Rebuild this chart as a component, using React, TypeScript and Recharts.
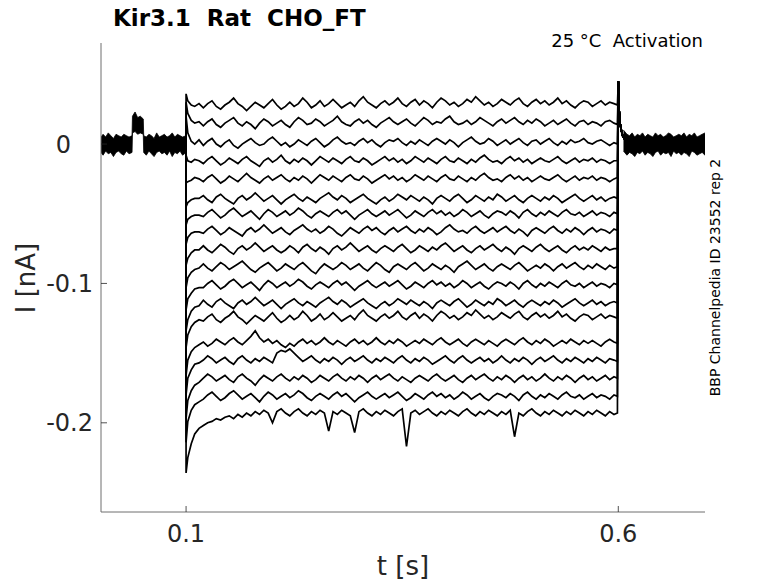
import { ComposedChart, Line, Area, XAxis, YAxis } from 'recharts';

// sample times (s) inside the voltage step
const stepTimes = [
  0.1, 0.102, 0.106, 0.11, 0.115,
  0.12, 0.125, 0.13, 0.135, 0.14, 0.145, 0.15, 0.155, 0.16, 0.165,
  0.17, 0.175, 0.18, 0.185, 0.19, 0.195, 0.2, 0.205, 0.21, 0.215,
  0.22, 0.225, 0.23, 0.235, 0.24, 0.245, 0.25, 0.255, 0.26, 0.265,
  0.27, 0.275, 0.28, 0.285, 0.29, 0.295, 0.3, 0.305, 0.31, 0.315,
  0.32, 0.325, 0.33, 0.335, 0.34, 0.345, 0.35, 0.355, 0.36, 0.365,
  0.37, 0.375, 0.38, 0.385, 0.39, 0.395, 0.4, 0.405, 0.41, 0.415,
  0.42, 0.425, 0.43, 0.435, 0.44, 0.445, 0.45, 0.455, 0.46, 0.465,
  0.47, 0.475, 0.48, 0.485, 0.49, 0.495, 0.5, 0.505, 0.51, 0.515,
  0.52, 0.525, 0.53, 0.535, 0.54, 0.545, 0.55, 0.555, 0.56, 0.565,
  0.57, 0.575, 0.58, 0.585, 0.59, 0.595, 0.599,
];

// currents in pA, one array per sweep (top to bottom)
const trace01 = [36, 31, 28, 27, 29, 26, 29, 31, 27, 25, 28, 30, 33, 29, 27, 24, 27, 30, 28, 26, 29, 32, 28, 25, 27, 30, 27, 29, 33, 30, 26, 28, 31, 27, 29, 32, 29, 26, 28, 30, 27, 31, 34, 30, 28, 26, 29, 31, 28, 30, 33, 29, 27, 30, 32, 28, 31, 29, 26, 30, 33, 31, 28, 30, 27, 29, 32, 30, 34, 31, 28, 30, 27, 29, 32, 30, 28, 31, 33, 29, 27, 30, 32, 29, 31, 28, 30, 33, 29, 31, 28, 26, 29, 31, 30, 27, 29, 31, 28, 30, 29, 28];
const trace02 = [30, 22, 17, 15, 16, 13, 16, 18, 14, 12, 15, 17, 19, 15, 13, 16, 14, 11, 15, 18, 16, 13, 15, 17, 14, 12, 16, 19, 17, 14, 15, 18, 16, 13, 15, 17, 20, 16, 14, 13, 16, 18, 15, 17, 14, 12, 15, 17, 19, 16, 14, 16, 18, 15, 13, 16, 19, 17, 14, 16, 15, 18, 20, 16, 14, 15, 17, 14, 16, 19, 17, 15, 13, 16, 18, 15, 17, 19, 16, 14, 17, 15, 18, 16, 13, 15, 17, 14, 16, 18, 15, 13, 16, 17, 14, 16, 15, 13, 16, 17, 15, 14];
const trace03 = [20, 8, 2, 0, 3, -1, 2, 4, 0, -2, 1, 3, -1, -3, 0, 2, 4, 1, -1, 0, 3, 5, 2, -1, 1, -2, 0, 3, 1, -1, 2, 4, 1, -2, 0, 3, 5, 2, 0, 1, -1, 2, 4, 1, 3, 0, -2, 1, 3, 2, 4, 1, -1, 2, 0, 3, 1, -1, 2, 4, 2, 0, 3, 1, -2, 1, 3, 5, 2, 0, 1, 4, 2, -1, 1, 3, 0, 2, 4, 1, -1, 2, 3, 0, 2, 4, 1, -1, 2, 0, 3, 1, 2, 4, 1, 0, 2, 3, 1, -1, 1, 0];
const trace04 = [-8, -12, -13, -11, -12, -14, -11, -9, -12, -15, -13, -10, -12, -14, -11, -9, -12, -14, -16, -12, -10, -13, -11, -8, -12, -14, -11, -13, -10, -12, -15, -12, -9, -11, -13, -10, -12, -14, -11, -9, -12, -13, -10, -12, -15, -13, -11, -9, -12, -10, -13, -11, -14, -12, -9, -11, -13, -10, -12, -14, -11, -9, -12, -13, -10, -12, -14, -11, -13, -10, -8, -11, -13, -12, -14, -11, -9, -12, -10, -13, -11, -14, -12, -10, -12, -13, -11, -9, -12, -14, -12, -10, -13, -11, -12, -10, -13, -11, -12, -14, -12, -12];
const trace05 = [-28, -27, -26, -24, -25, -27, -24, -22, -25, -28, -26, -23, -25, -27, -24, -21, -24, -26, -28, -25, -23, -26, -24, -22, -25, -27, -24, -26, -23, -25, -28, -25, -22, -24, -26, -23, -25, -27, -24, -22, -25, -26, -23, -25, -28, -26, -24, -22, -25, -23, -26, -24, -27, -25, -22, -24, -26, -23, -25, -27, -24, -22, -25, -26, -23, -25, -27, -24, -26, -23, -21, -24, -26, -25, -27, -24, -22, -25, -23, -26, -24, -27, -25, -23, -25, -26, -24, -22, -25, -27, -25, -23, -26, -24, -25, -23, -26, -24, -25, -27, -25, -24];
const trace06 = [-45, -42, -40, -39, -39, -37, -40, -42, -38, -36, -39, -41, -43, -39, -37, -40, -38, -35, -38, -41, -39, -37, -40, -43, -40, -38, -36, -39, -41, -38, -40, -42, -39, -37, -35, -38, -40, -37, -39, -42, -40, -38, -36, -39, -41, -43, -40, -38, -41, -39, -36, -38, -40, -37, -39, -41, -38, -40, -43, -39, -37, -39, -41, -38, -36, -39, -42, -40, -37, -39, -41, -38, -40, -36, -38, -41, -39, -37, -40, -42, -39, -37, -39, -41, -38, -40, -37, -39, -42, -40, -38, -36, -39, -41, -39, -37, -40, -38, -41, -39, -38, -39];
const trace07 = [-58, -54, -52, -51, -51, -52, -49, -47, -50, -53, -51, -48, -46, -49, -52, -50, -48, -51, -54, -50, -47, -49, -52, -50, -48, -51, -49, -46, -48, -51, -53, -50, -48, -50, -52, -49, -47, -50, -48, -51, -54, -51, -49, -47, -50, -52, -50, -48, -51, -49, -47, -50, -53, -51, -48, -50, -52, -49, -47, -50, -48, -51, -49, -52, -50, -47, -49, -52, -50, -48, -51, -53, -50, -48, -49, -51, -48, -50, -53, -49, -47, -50, -52, -49, -51, -48, -50, -52, -49, -47, -50, -51, -49, -52, -50, -48, -51, -49, -50, -52, -49, -50];
const trace08 = [-72, -67, -64, -63, -63, -64, -61, -59, -62, -65, -63, -60, -62, -64, -66, -62, -60, -63, -61, -58, -61, -64, -62, -60, -63, -65, -62, -60, -58, -61, -63, -61, -64, -62, -59, -61, -64, -66, -63, -60, -62, -64, -61, -59, -62, -60, -63, -65, -62, -60, -63, -61, -59, -62, -64, -61, -63, -60, -62, -65, -63, -60, -58, -61, -63, -62, -64, -61, -59, -62, -64, -62, -60, -63, -61, -59, -62, -64, -61, -63, -66, -62, -60, -62, -64, -61, -59, -62, -64, -61, -63, -60, -62, -65, -62, -60, -63, -61, -62, -64, -61, -62];
const trace09 = [-87, -82, -78, -76, -76, -73, -76, -78, -75, -72, -74, -77, -79, -75, -73, -76, -74, -71, -74, -77, -75, -73, -76, -78, -76, -73, -75, -78, -74, -72, -75, -77, -74, -76, -79, -75, -73, -76, -74, -71, -74, -77, -75, -73, -76, -78, -75, -73, -75, -77, -74, -72, -75, -78, -76, -73, -75, -77, -74, -76, -73, -71, -74, -77, -75, -73, -76, -78, -75, -73, -76, -74, -72, -75, -77, -74, -76, -79, -75, -73, -75, -77, -74, -72, -75, -77, -75, -73, -76, -78, -75, -73, -76, -74, -76, -73, -75, -77, -74, -76, -75, -75];
const trace10 = [-103, -96, -92, -90, -89, -86, -89, -91, -88, -85, -87, -90, -88, -86, -84, -87, -90, -92, -89, -87, -85, -88, -91, -89, -86, -88, -90, -87, -85, -88, -91, -93, -89, -86, -88, -90, -88, -85, -87, -90, -88, -86, -89, -91, -88, -85, -87, -90, -92, -88, -86, -88, -90, -87, -85, -88, -91, -89, -86, -88, -90, -87, -89, -92, -88, -86, -84, -87, -90, -88, -86, -89, -91, -88, -86, -88, -90, -87, -85, -88, -91, -89, -87, -89, -86, -88, -91, -88, -86, -89, -87, -85, -88, -90, -87, -89, -86, -88, -90, -87, -89, -88];
const trace11 = [-119, -111, -107, -104, -103, -103, -100, -98, -101, -104, -102, -99, -97, -100, -103, -101, -99, -102, -105, -101, -98, -100, -103, -101, -99, -102, -100, -97, -99, -102, -104, -101, -99, -101, -103, -100, -98, -101, -99, -102, -105, -102, -100, -98, -101, -103, -101, -99, -102, -100, -98, -101, -104, -102, -99, -101, -103, -100, -98, -101, -99, -102, -100, -103, -101, -98, -100, -103, -101, -99, -102, -104, -101, -99, -100, -102, -99, -101, -104, -100, -98, -101, -103, -100, -102, -99, -101, -103, -100, -98, -101, -102, -100, -103, -101, -99, -102, -100, -101, -103, -100, -101];
const trace12 = [-134, -126, -120, -117, -116, -112, -115, -117, -113, -111, -114, -116, -118, -114, -112, -115, -113, -110, -113, -116, -114, -112, -115, -118, -115, -113, -111, -114, -116, -113, -115, -117, -114, -112, -110, -113, -115, -112, -114, -117, -115, -113, -111, -114, -116, -118, -115, -113, -116, -114, -111, -113, -115, -112, -114, -116, -113, -115, -118, -114, -112, -114, -116, -113, -111, -114, -117, -115, -112, -114, -116, -113, -115, -111, -113, -116, -114, -112, -115, -117, -114, -112, -114, -116, -113, -115, -112, -114, -117, -115, -113, -111, -114, -116, -114, -112, -115, -113, -116, -114, -113, -114];
const trace13 = [-146, -137, -131, -128, -126, -127, -124, -122, -126, -128, -125, -123, -120, -124, -126, -129, -126, -123, -125, -127, -124, -121, -125, -128, -126, -123, -126, -124, -120, -123, -127, -125, -122, -126, -124, -121, -124, -127, -125, -123, -126, -122, -119, -123, -125, -127, -124, -122, -125, -123, -120, -124, -126, -123, -121, -125, -122, -124, -127, -123, -120, -122, -125, -123, -126, -124, -121, -123, -119, -122, -125, -123, -126, -124, -121, -123, -125, -122, -120, -124, -126, -123, -121, -124, -122, -125, -123, -120, -124, -122, -125, -127, -124, -122, -123, -126, -124, -122, -125, -123, -124, -125];
const trace14 = [-166, -155, -149, -146, -144, -142, -145, -143, -140, -142, -144, -141, -139, -142, -144, -141, -138, -134, -139, -142, -140, -143, -141, -144, -146, -143, -145, -142, -140, -143, -141, -144, -142, -139, -142, -144, -141, -143, -145, -142, -140, -143, -141, -144, -142, -139, -142, -144, -141, -143, -140, -142, -145, -143, -141, -143, -140, -142, -144, -141, -139, -142, -144, -142, -140, -143, -145, -142, -140, -142, -144, -141, -143, -145, -142, -140, -142, -144, -141, -139, -142, -144, -141, -143, -140, -142, -145, -143, -141, -143, -140, -142, -144, -141, -143, -141, -143, -145, -142, -140, -142, -143];
const trace15 = [-180, -168, -162, -158, -157, -155, -152, -154, -157, -155, -153, -156, -158, -154, -152, -155, -157, -154, -156, -153, -155, -157, -150, -148, -149, -147, -150, -153, -156, -154, -152, -155, -157, -154, -156, -153, -155, -158, -155, -153, -156, -154, -152, -155, -157, -154, -156, -153, -155, -157, -154, -152, -155, -157, -154, -156, -153, -155, -158, -156, -154, -152, -155, -157, -154, -152, -155, -157, -155, -153, -156, -154, -157, -155, -152, -155, -157, -154, -156, -153, -155, -158, -155, -153, -156, -154, -152, -155, -157, -154, -156, -153, -155, -157, -154, -156, -153, -155, -157, -154, -155, -156];
const trace16 = [-197, -184, -177, -173, -171, -168, -165, -167, -170, -168, -166, -169, -171, -167, -165, -168, -170, -173, -169, -166, -168, -170, -167, -165, -168, -170, -167, -169, -166, -168, -171, -169, -166, -168, -170, -167, -165, -168, -170, -167, -169, -166, -168, -171, -168, -166, -169, -167, -165, -168, -170, -167, -169, -171, -168, -166, -168, -170, -167, -165, -168, -170, -168, -166, -169, -171, -168, -166, -169, -167, -165, -168, -170, -167, -169, -166, -168, -171, -168, -166, -169, -167, -170, -168, -165, -168, -170, -167, -169, -166, -168, -171, -168, -166, -169, -167, -170, -168, -166, -169, -167, -168];
const trace17 = [-214, -199, -191, -187, -185, -183, -180, -178, -181, -184, -182, -179, -177, -180, -183, -181, -179, -182, -185, -181, -178, -180, -183, -181, -179, -182, -180, -177, -179, -182, -184, -181, -179, -181, -183, -180, -178, -181, -179, -182, -185, -182, -180, -178, -181, -183, -181, -179, -182, -180, -178, -181, -184, -182, -179, -181, -183, -180, -178, -181, -179, -182, -180, -183, -181, -178, -180, -183, -181, -179, -182, -184, -181, -179, -180, -182, -179, -181, -184, -180, -178, -181, -183, -180, -182, -179, -181, -183, -180, -178, -181, -182, -180, -183, -181, -179, -182, -180, -181, -183, -180, -181];
const trace18 = [-236, -225, -215, -208, -204, -202, -200, -199, -197, -198, -196, -195, -197, -194, -196, -193, -195, -192, -194, -191, -193, -200, -192, -190, -193, -195, -192, -190, -193, -195, -192, -194, -191, -193, -206, -192, -194, -191, -193, -195, -207, -192, -190, -193, -195, -192, -194, -191, -193, -195, -192, -190, -217, -193, -191, -194, -192, -190, -193, -195, -192, -194, -191, -193, -195, -192, -190, -193, -195, -192, -194, -191, -193, -195, -192, -194, -191, -210, -193, -195, -192, -190, -193, -195, -192, -194, -191, -193, -195, -192, -194, -191, -193, -195, -192, -194, -191, -193, -195, -192, -194, -193];

const traces = [
  trace01, trace02, trace03, trace04, trace05, trace06, trace07, trace08, trace09,
  trace10, trace11, trace12, trace13, trace14, trace15, trace16, trace17, trace18,
];

const holdingCurrent = 0;

// shared capacitive tail after the step (pA)
const tailTimes = [0.6, 0.6005, 0.601, 0.602, 0.6035, 0.605, 0.608, 0.612];
const tailValues = [45, 38, 24, 15, 10, 6, 3, 1];

// noise envelope of the overlapping sweeps before the step (pA)
const baseTimes = [0.0016, 0.004, 0.007, 0.01, 0.013, 0.016, 0.019, 0.022, 0.025, 0.028, 0.031, 0.034, 0.0375, 0.038, 0.041, 0.044, 0.047, 0.0505, 0.051, 0.054, 0.057, 0.06, 0.063, 0.066, 0.069, 0.072, 0.075, 0.078, 0.081, 0.084, 0.087, 0.09, 0.093, 0.096, 0.1];
const baseLow = [-6, -8, -5, -7, -6, -9, -6, -5, -7, -8, -5, -7, -6, 8, 9, 7, 8, 7, -6, -8, -5, -7, -9, -6, -5, -7, -6, -8, -5, -9, -6, -7, -5, -8, -6];
const baseHigh = [5, 7, 5, 8, 6, 4, 7, 6, 5, 7, 6, 5, 6, 20, 23, 19, 20, 18, 6, 5, 7, 6, 4, 8, 5, 6, 7, 5, 6, 8, 5, 7, 6, 5, 6];

// noise envelope after the step (pA)
const postTimes = [0.606, 0.61, 0.613, 0.616, 0.619, 0.622, 0.625, 0.628, 0.631, 0.634, 0.637, 0.64, 0.643, 0.646, 0.649, 0.652, 0.655, 0.658, 0.661, 0.664, 0.667, 0.67, 0.673, 0.676, 0.679, 0.682, 0.685, 0.688, 0.691, 0.694, 0.697, 0.7003];
const postLow = [-5, -8, -6, -7, -9, -6, -7, -5, -8, -6, -7, -9, -6, -5, -8, -6, -7, -6, -9, -5, -7, -6, -8, -6, -7, -9, -5, -6, -8, -7, -6, -8];
const postHigh = [10, 7, 6, 8, 5, 7, 6, 8, 5, 7, 6, 5, 8, 6, 7, 5, 6, 8, 7, 5, 6, 7, 6, 8, 5, 7, 6, 8, 5, 6, 7, 8];

const xTicks = [0.1, 0.6];
const yTicks = [0, -0.1, -0.2];

const FONT = 'DejaVu Sans';
const AXIS = '#262626';

const pA = (v: number) => v / 1000;

function traceRows(values: number[]) {
  const rows = [{ t: stepTimes[0], v: holdingCurrent }];
  values.forEach((v, i) => rows.push({ t: stepTimes[i], v: pA(v) }));
  tailTimes.forEach((t, i) => rows.push({ t, v: pA(tailValues[i]) }));
  return rows;
}

function bandRows(times: number[], low: number[], high: number[]) {
  return times.map((t, i) => ({ t, range: [pA(low[i]), pA(high[i])] }));
}

const XTick = ({ x, y, payload }: any) => (
  <g>
    <line x1={x} y1={y} x2={x} y2={y - 6} stroke={AXIS} strokeWidth={0.8} />
    <text x={x} y={y + 30} textAnchor="middle" fontSize={24} fill={AXIS} fontFamily={FONT}>
      {String(payload.value)}
    </text>
  </g>
);

const YTick = ({ x, y, payload }: any) => (
  <g>
    <line x1={x} y1={y} x2={x + 6} y2={y} stroke={AXIS} strokeWidth={0.8} />
    <text x={payload.value === 0 ? x - 30 : x - 8} y={y + 8.5} textAnchor="end" fontSize={24} fill={AXIS} fontFamily={FONT}>
      {payload.value === 0 ? '0' : String(payload.value)}
    </text>
  </g>
);

export default function App() {
  return (
    <div style={{ position: 'absolute', left: 0, top: 0, width: 778, height: 583, background: '#fff' }}>
      <ComposedChart width={778} height={583} margin={{ top: 43, right: 73, bottom: 0, left: 0 }}>
        <XAxis
          type="number"
          dataKey="t"
          domain={[0.0016, 0.7003]}
          ticks={xTicks}
          allowDataOverflow
          height={71}
          tickSize={0}
          tickMargin={0}
          tickLine={false}
          stroke="#6e6e6e"
          tick={<XTick />}
        />
        <YAxis
          type="number"
          domain={[-0.264, 0.0725]}
          ticks={yTicks}
          allowDataOverflow
          width={101}
          tickSize={0}
          tickMargin={0}
          tickLine={false}
          stroke="#6e6e6e"
          tick={<YTick />}
        />
        <Area
          data={bandRows(baseTimes, baseLow, baseHigh)}
          dataKey="range"
          type="linear"
          stroke="#000"
          strokeWidth={0.8}
          fill="#000"
          fillOpacity={1}
          isAnimationActive={false}
        />
        <Area
          data={bandRows(postTimes, postLow, postHigh)}
          dataKey="range"
          type="linear"
          stroke="#000"
          strokeWidth={0.8}
          fill="#000"
          fillOpacity={1}
          isAnimationActive={false}
        />
        {traces.map((tr, i) => (
          <Line
            key={i}
            data={traceRows(tr)}
            dataKey="v"
            type="linear"
            stroke="#000"
            strokeWidth={1.7}
            dot={false}
            isAnimationActive={false}
          />
        ))}
      </ComposedChart>
      <svg width={778} height={583} style={{ position: 'absolute', left: 0, top: 0, pointerEvents: 'none' }}>
        <text x={113} y={26} fontSize={23} fontWeight="bold" fontFamily={FONT} fill="#000" style={{ whiteSpace: 'pre' }}>
          {'Kir3.1  Rat  CHO_FT'}
        </text>
        <text x={703} y={47} textAnchor="end" fontSize={18} fontFamily={FONT} fill="#000" style={{ whiteSpace: 'pre' }}>
          {'25 °C  Activation'}
        </text>
        <text x={403} y={575} textAnchor="middle" fontSize={26} fontFamily={FONT} fill={AXIS}>
          t [s]
        </text>
        <text x={35} y={278} textAnchor="middle" fontSize={26} fontFamily={FONT} fill={AXIS} transform="rotate(-90 35 278)">
          I [nA]
        </text>
        <text x={720} y={277.5} textAnchor="middle" fontSize={14} fontFamily={FONT} fill="#000" transform="rotate(-90 720 277.5)">
          BBP Channelpedia ID 23552 rep 2
        </text>
      </svg>
    </div>
  );
}
